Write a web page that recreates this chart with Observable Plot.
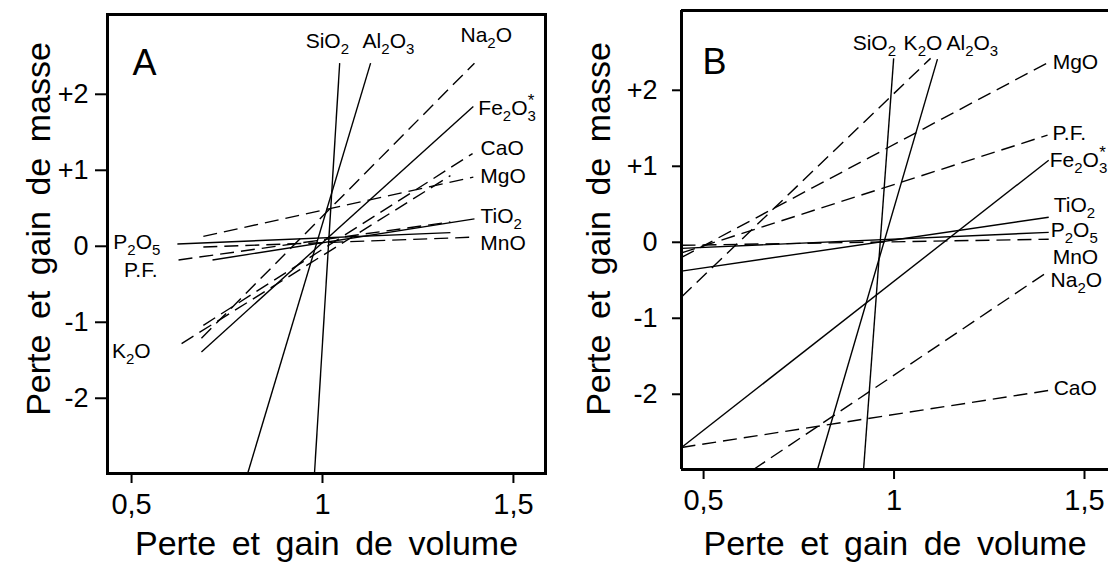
<!DOCTYPE html>
<html><head><meta charset="utf-8">
<script src="https://cdn.jsdelivr.net/npm/d3@7"></script>
<script src="https://cdn.jsdelivr.net/npm/@observablehq/plot@0.6"></script>
<style>
html,body{margin:0;padding:0;background:#fff;overflow:hidden}
#wrap{position:relative;width:1108px;height:568px}
#wrap svg{position:absolute;top:0;overflow:visible;background:transparent}
g[font-size="34"] text{word-spacing:6px}
</style></head><body><div id="wrap"></div>
<script>
// ---------- data ----------
const xTicks = [0.5, 1, 1.5];
const xTickLabels = ["0,5", "1", "1,5"];
const yTicks = [-2, -1, 0, 1, 2];
const yTickLabels = ["-2", "-1", "0", "+1", "+2"];
const xTitle = "Perte et gain de volume";
const yTitle = "Perte et gain de masse";

// Panel A
const oxidesA = ["SiO2","Al2O3","Na2O","Fe2O3*","CaO","MgO","TiO2","MnO","P2O5","P.F.","K2O"];
const dashedA = [false,false,true,false,true,true,false,true,false,true,true];
const vol1A  = [0.979,0.804,0.683,0.683,0.688,0.688,0.712,0.688,0.620,0.623,0.631];
const mass1A = [-2.99,-2.99,-1.21,-1.39,-1.04,0.13,-0.18,-0.01,0.03,-0.18,-1.28];
const vol2A  = [1.045,1.126,1.398,1.395,1.393,1.395,1.398,1.395,1.335,1.335,1.335];
const mass2A = [2.41,2.41,2.41,1.84,1.22,0.91,0.36,0.12,0.18,0.32,0.93];

// Panel B
const oxidesB = ["SiO2","K2O","Al2O3","MgO","P.F.","Fe2O3*","TiO2","P2O5","MnO","Na2O","CaO"];
const dashedB = [false,true,false,true,true,false,false,false,true,true,true];
const vol1B  = [0.920,0.442,0.799,0.442,0.442,0.442,0.442,0.442,0.442,0.631,0.442];
const mass1B = [-2.99,-0.72,-2.99,-0.20,-0.14,-2.70,-0.38,-0.08,-0.04,-2.99,-2.70];
const vol2B  = [0.999,1.096,1.114,1.406,1.403,1.406,1.406,1.406,1.406,1.403,1.406];
const mass2B = [2.42,2.42,2.41,2.37,1.41,1.08,0.33,0.13,0.04,-0.39,-1.95];

// ---------- layout / style ----------
const SANS = "'Liberation Sans', Arial, sans-serif";
const LABEL_SIZE = 21;

const layoutA = {
  "SiO2":  {at:"end", anchor:"start", dx:-34, dy:-22},
  "Al2O3": {at:"end", anchor:"start", dx:-8,  dy:-22},
  "Na2O":  {at:"end", anchor:"start", dx:-14, dy:-28},
  "Fe2O3*":{at:"end", anchor:"start", dx:5,   dy:2},
  "CaO":   {at:"end", anchor:"start", dx:8,   dy:-5},
  "MgO":   {at:"end", anchor:"start", dx:7,   dy:-1},
  "TiO2":  {at:"end", anchor:"start", dx:6,   dy:-3},
  "MnO":   {at:"end", anchor:"start", dx:7,   dy:6},
  "P2O5":  {at:"start", anchor:"end", dx:-17, dy:-2},
  "P.F.":  {at:"start", anchor:"end", dx:-21, dy:10},
  "K2O":   {at:"start", anchor:"end", dx:-31, dy:8}
};
const layoutB = {
  "SiO2":  {at:"end", anchor:"start", dx:-41, dy:-15},
  "K2O":   {at:"end", anchor:"start", dx:-27, dy:-15},
  "Al2O3": {at:"end", anchor:"start", dx:9,   dy:-16},
  "MgO":   {at:"end", anchor:"start", dx:4,   dy:0},
  "P.F.":  {at:"end", anchor:"start", dx:5,   dy:-2},
  "Fe2O3*":{at:"end", anchor:"start", dx:1,   dy:0},
  "TiO2":  {at:"end", anchor:"start", dx:5,   dy:-12},
  "P2O5":  {at:"end", anchor:"start", dx:2,   dy:-2},
  "MnO":   {at:"end", anchor:"start", dx:4,   dy:18},
  "Na2O":  {at:"end", anchor:"start", dx:3,   dy:8},
  "CaO":   {at:"end", anchor:"start", dx:5,   dy:-2}
};

function makePanel(cfg) {
  const rows = cfg.names.map((n, i) => ({name: n, dashed: cfg.dashed[i], x1: cfg.v1[i], y1: cfg.m1[i], x2: cfg.v2[i], y2: cfg.m2[i]}));
  const labelMarks = rows.map(r => {
    const L = cfg.layout[r.name];
    const s = L.at === "start";
    return Plot.text([r], {x: s ? "x1" : "x2", y: s ? "y1" : "y2", text: "name", textAnchor: L.anchor, lineAnchor: "middle",
      dx: L.dx, dy: L.dy, fontSize: LABEL_SIZE, fontFamily: SANS, fill: "#000"});
  });
  const frameMarks = cfg.fullFrame
    ? [Plot.frame({stroke: "#000", strokeWidth: 3})]
    : [Plot.ruleX([cfg.xDomain[0]], {stroke: "#000", strokeWidth: 3}),
       Plot.ruleY([cfg.yDomain[0], cfg.yDomain[1]], {stroke: "#000", strokeWidth: 3})];
  return Plot.plot({
    width: 554, height: 568,
    marginLeft: cfg.ml, marginRight: cfg.mr, marginTop: cfg.mt, marginBottom: cfg.mb,
    x: {domain: cfg.xDomain},
    y: {domain: cfg.yDomain},
    style: {fontFamily: SANS, color: "#000", background: "transparent", overflow: "visible"},
    marks: [
      Plot.link(rows.filter(r => !r.dashed), {x1: "x1", y1: "y1", x2: "x2", y2: "y2", stroke: "#000", strokeWidth: 1.4}),
      Plot.link(rows.filter(r => r.dashed), {x1: "x1", y1: "y1", x2: "x2", y2: "y2", stroke: "#000", strokeWidth: 1.4, strokeDasharray: "14,7"}),
      ...frameMarks,
      Plot.axisX({ticks: xTicks, tickFormat: d => xTickLabels[xTicks.indexOf(d)], tickSize: 10, tickPadding: 10,
        fontSize: 29, strokeWidth: 2, label: null, fontFamily: SANS}),
      Plot.axisY({ticks: yTicks, tickFormat: d => yTickLabels[yTicks.indexOf(d)], tickSize: cfg.yTickSize, tickPadding: cfg.yTickPad,
        fontSize: 27, strokeWidth: 2, label: null, fontFamily: SANS}),
      Plot.text([xTitle], {text: d => d, frameAnchor: "bottom", textAnchor: "middle", lineAnchor: "middle", dy: cfg.xTitleDy, fontSize: 34, fontFamily: SANS, fill: "#000"}),
      Plot.text([yTitle], {text: d => d, frameAnchor: "left", textAnchor: "middle", lineAnchor: "middle", rotate: -90, dx: cfg.yTitleDx, dy: cfg.yTitleDy, fontSize: 34, fontFamily: SANS, fill: "#000"}),
      Plot.text([cfg.letter], {text: d => d, frameAnchor: "top-left", textAnchor: "start", lineAnchor: "middle", dx: cfg.letterDx, dy: cfg.letterDy, fontSize: 36, fontFamily: SANS, fill: "#000"}),
      ...labelMarks
    ]
  });
}

function subscriptify(svg) {
  const NS = "http://www.w3.org/2000/svg";
  svg.querySelectorAll('g[font-size="' + LABEL_SIZE + '"] text').forEach(t => {
    const s = t.textContent;
    const parts = s.match(/(\d+|\*|[^\d*]+)/g) || [s];
    while (t.firstChild) t.removeChild(t.firstChild);
    let shift = 0;
    let lastSubWidth = 0;
    parts.forEach(p => {
      const ts = document.createElementNS(NS, "tspan");
      let target = 0;
      if (/^\d+$/.test(p)) { target = 6; ts.setAttribute("font-size", "15"); }
      else if (p === "*") { target = -9; ts.setAttribute("font-size", "17"); ts.setAttribute("dx", String(-lastSubWidth)); }
      if (target - shift !== 0) ts.setAttribute("dy", String(target - shift));
      shift = target;
      ts.textContent = p;
      t.appendChild(ts);
      lastSubWidth = /^\d+$/.test(p) ? 8 * p.length : 0;
    });
  });
}

const wrap = document.getElementById("wrap");
const A = makePanel({
  names: oxidesA, dashed: dashedA, v1: vol1A, m1: mass1A, v2: vol2A, m2: mass2A,
  layout: layoutA, letter: "A", fullFrame: true,
  xDomain: [0.437, 1.584], yDomain: [-2.99, 3.05],
  ml: 107, mr: 9, mt: 14, mb: 95,
  yTickSize: 12, yTickPad: 7, xTitleDy: 71, yTitleDx: -68, yTitleDy: -15,
  letterDx: 25, letterDy: 49
});
A.style.left = "0px";
wrap.appendChild(A);
const B = makePanel({
  names: oxidesB, dashed: dashedB, v1: vol1B, m1: mass1B, v2: vol2B, m2: mass2B,
  layout: layoutB, letter: "B", fullFrame: false,
  xDomain: [0.442, 1.563], yDomain: [-2.99, 3.05],
  ml: 127, mr: 0, mt: 10, mb: 99,
  yTickSize: 9, yTickPad: 15, xTitleDy: 75, yTitleDx: -82, yTitleDy: -11,
  letterDx: 21, letterDy: 52
});
B.style.left = "554px";
wrap.appendChild(B);
subscriptify(A);
subscriptify(B);
</script></body></html>
